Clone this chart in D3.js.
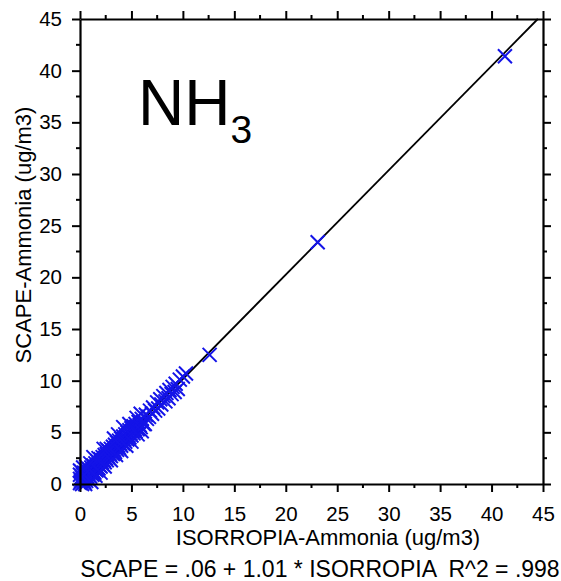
<!DOCTYPE html>
<html><head><meta charset="utf-8">
<script src="https://cdn.jsdelivr.net/npm/d3@7/dist/d3.min.js"></script>
<style>html,body{margin:0;padding:0;background:#fff;}svg{display:block;font-family:Arial,"Liberation Sans",sans-serif;}</style>
</head><body>
<svg id="c" width="561" height="581"></svg>
<script>
const isorropia = [0.0,0.0,0.0,0.1,0.1,0.2,0.2,0.3,0.3,0.4,0.4,0.5,0.5,0.6,0.6,0.7,0.7,0.8,0.8,0.9,0.9,1.0,1.0,1.1,1.1,1.2,1.2,1.3,1.3,1.4,1.4,1.5,1.5,1.6,1.6,1.7,1.7,1.8,1.8,1.9,2.0,2.0,2.1,2.2,2.2,2.3,2.4,2.4,2.5,2.6,2.6,2.7,2.8,2.8,2.9,3.0,3.0,3.1,3.2,3.2,3.3,3.4,3.4,3.5,3.6,3.6,3.7,3.8,3.8,3.9,4.0,4.0,4.1,4.2,4.2,4.3,4.4,4.4,4.5,4.6,4.6,4.7,4.8,4.8,4.9,5.0,5.0,5.1,5.2,5.2,5.3,5.4,5.4,5.5,5.6,5.7,5.8,5.9,6.0,6.1,6.2,6.4,6.5,6.7,6.8,7.0,7.1,7.3,7.5,7.6,7.8,7.9,8.1,8.3,8.4,8.6,8.7,8.9,9.0,9.2,9.3,9.5,9.7,10.0,10.3,12.6,23.1,41.3,
  0.0,0.3,0.6,1.0,1.5,1.8,2.0,1.3,2.4,2.6,3.0,2.3,3.5,3.3,4.0,3.7,4.5,4.2,5.0,4.8,5.6,5.5,6.0,5.9,6.3,0.5,1.1,0.2];
const scape = [0.1,0.5,0.9,0.3,1.2,0.0,0.6,0.4,0.9,0.2,1.1,0.5,0.8,0.3,1.0,0.7,1.3,0.5,1.0,0.8,1.4,0.7,1.1,1.0,1.6,0.9,1.3,1.2,1.8,1.1,1.5,1.4,2.0,1.3,1.7,1.6,2.2,1.5,1.9,1.8,2.4,1.7,2.1,1.9,2.6,2.3,2.1,2.8,2.5,2.3,2.9,2.7,2.5,3.2,2.9,2.7,3.4,3.1,2.9,3.6,3.3,3.1,3.8,3.5,3.3,4.0,3.7,3.5,4.2,3.9,3.7,4.4,4.1,3.9,4.6,4.3,4.1,4.8,4.5,4.3,5.0,4.7,4.5,5.2,4.9,4.7,5.4,5.1,4.9,5.6,5.3,5.1,5.8,5.5,5.3,6.0,5.7,5.5,6.3,6.0,5.8,6.7,6.3,6.5,7.1,6.8,7.4,7.1,7.9,7.3,8.2,7.7,8.5,8.0,8.8,8.3,9.1,8.7,9.4,8.9,9.7,9.2,10.1,10.4,10.7,12.5,23.4,41.4,
  1.3,1.6,1.7,2.0,0.8,2.5,1.1,2.6,1.7,3.4,2.3,3.4,2.8,4.4,3.2,4.8,3.7,5.5,4.1,5.8,4.8,6.4,5.1,6.8,5.8,0.0,0.2,0.7];
const xTicks = [0,5,10,15,20,25,30,35,40,45];
const yTicks = [0,5,10,15,20,25,30,35,40,45];
const minorTicks = [2.5,7.5,12.5,17.5,22.5,27.5,32.5,37.5,42.5];
const fitIntercept = 0.06, fitSlope = 1.01;
const xTitle = "ISORROPIA-Ammonia (ug/m3)";
const yTitle = "SCAPE-Ammonia (ug/m3)";
const equation = "SCAPE = .06 + 1.01 * ISORROPIA  R^2 = .998";

const svg = d3.select("#c");
const L=80,R=543,T=19,B=484;
const x = d3.scaleLinear().domain([0,45]).range([L,R]);
const y = d3.scaleLinear().domain([0,45]).range([B,T]);
const blue = "#1414e8";

// fit line, clipped at 45
const xEnd = (45 - fitIntercept)/fitSlope;
svg.append("line").attr("x1",x(0)).attr("y1",y(fitIntercept)).attr("x2",x(xEnd)).attr("y2",y(45))
  .attr("stroke","#000").attr("stroke-width",1.8);

// markers
const s=7;
svg.append("g").selectAll("path").data(isorropia.map((v,i)=>[v,scape[i]])).join("path")
  .attr("d",d=>{const cx=x(d[0]),cy=y(d[1]);return `M${cx-s},${cy-s}L${cx+s},${cy+s}M${cx-s},${cy+s}L${cx+s},${cy-s}`;})
  .attr("stroke",blue).attr("stroke-width",2).attr("fill","none");

// axes
function styleAxis(g){g.select(".domain").attr("stroke","#000").attr("stroke-width",2.2);g.selectAll(".tick line").attr("stroke","#000").attr("stroke-width",2);}
const axB = svg.append("g").attr("transform",`translate(0,${B})`).call(d3.axisBottom(x).tickValues(xTicks).tickSize(8).tickSizeOuter(0).tickPadding(14).tickFormat(d3.format("d")));
const axL = svg.append("g").attr("transform",`translate(${L},0)`).call(d3.axisLeft(y).tickValues(yTicks).tickSize(8).tickSizeOuter(0).tickPadding(10).tickFormat(d3.format("d")));
const axT = svg.append("g").attr("transform",`translate(0,${T})`).call(d3.axisTop(x).tickValues(xTicks).tickSize(8).tickSizeOuter(0).tickFormat(""));
const axR = svg.append("g").attr("transform",`translate(${R},0)`).call(d3.axisRight(y).tickValues(yTicks).tickSize(8).tickSizeOuter(0).tickFormat(""));
[axB,axL,axT,axR].forEach(styleAxis);
[axB,axL].forEach(g=>g.selectAll("text").attr("font-size",20.5).attr("fill","#000").attr("font-family","Arial,'Liberation Sans',sans-serif"));
// minor ticks
svg.append("g").selectAll("line").data(minorTicks).join("line").attr("x1",d=>x(d)).attr("x2",d=>x(d)).attr("y1",B).attr("y2",B+4).attr("stroke","#000").attr("stroke-width",2);
svg.append("g").selectAll("line").data(minorTicks).join("line").attr("x1",d=>x(d)).attr("x2",d=>x(d)).attr("y1",T).attr("y2",T-4).attr("stroke","#000").attr("stroke-width",2);
svg.append("g").selectAll("line").data(minorTicks).join("line").attr("y1",d=>y(d)).attr("y2",d=>y(d)).attr("x1",L).attr("x2",L-4).attr("stroke","#000").attr("stroke-width",2);
svg.append("g").selectAll("line").data(minorTicks).join("line").attr("y1",d=>y(d)).attr("y2",d=>y(d)).attr("x1",R).attr("x2",R+4).attr("stroke","#000").attr("stroke-width",2);

// titles
svg.append("text").attr("x",328).attr("y",545).attr("text-anchor","middle").attr("font-size",22).text(xTitle);
svg.append("text").attr("transform","translate(31,235) rotate(-90)").attr("text-anchor","middle").attr("font-size",22).text(yTitle);
svg.append("text").attr("x",320).attr("y",577).attr("text-anchor","middle").attr("font-size",23).attr("xml:space","preserve").style("white-space","pre").text(equation);

// NH3 label
const lab = svg.append("text").attr("x",138).attr("y",125).attr("font-size",64);
lab.append("tspan").text("NH");
lab.append("tspan").attr("font-size",39).attr("dy",18).text("3");
</script>
</body></html>
